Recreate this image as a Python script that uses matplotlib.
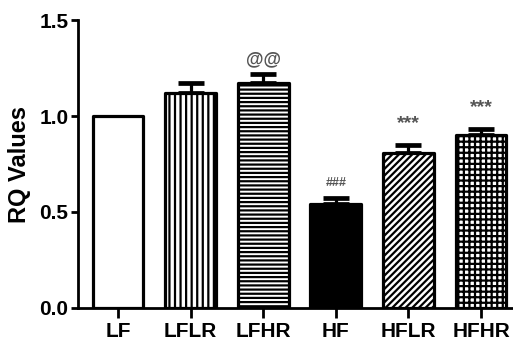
import matplotlib
matplotlib.use("Agg")
import matplotlib.pyplot as plt

categories = ["LF", "LFLR", "LFHR", "HF", "HFLR", "HFHR"]
values = [1.0, 1.12, 1.17, 0.54, 0.81, 0.90]
errors = [0.0, 0.05, 0.05, 0.035, 0.04, 0.03]
hatches = ["", "|||", "----", "", "/////", "+++"]
facecolors = ["white", "white", "white", "black", "white", "white"]
annotations = ["", "", "@@", "###", "***", "***"]
annot_y = [0, 0, 1.295, 0.65, 0.96, 1.045]
annot_size = [0, 0, 13, 9, 14, 14]

plt.rcParams["font.family"] = ["Liberation Sans", "DejaVu Sans"]
plt.rcParams["font.weight"] = "bold"
plt.rcParams["hatch.linewidth"] = 1.6

fig = plt.figure(figsize=(5.13, 3.41), dpi=100)
ax = fig.add_axes([0.152, 0.097, 0.848, 0.844])

x = list(range(len(categories)))
bars = ax.bar(x, values, width=0.7, color=facecolors, edgecolor="black",
              linewidth=2.3, zorder=2)
for b, h in zip(bars, hatches):
    if h:
        b.set_hatch(h)
    b.set_joinstyle("round")

for xi, v, e in zip(x, values, errors):
    if e > 0:
        ax.errorbar(xi, v, yerr=[[0], [e]], fmt="none", ecolor="black",
                    elinewidth=2.3, capsize=9.5, capthick=3.4, zorder=1)

for xi, t, y, s in zip(x, annotations, annot_y, annot_size):
    if t:
        ax.text(xi, y, t, ha="center", va="center", fontsize=s,
                color="#555555", fontweight="bold")

ax.set_xlim(-0.55, 5.44)
ax.set_ylim(0, 1.5)
ax.set_yticks([0.0, 0.5, 1.0, 1.5])
ax.set_yticklabels(["0.0", "0.5", "1.0", "1.5"])
ax.set_xticks(x)
ax.set_xticklabels(categories)
ax.tick_params(axis="both", labelsize=15, width=2, colors="black")
ax.tick_params(axis="x", length=7, pad=3)
ax.tick_params(axis="y", length=5, pad=2)
for lab in ax.get_xticklabels() + ax.get_yticklabels():
    lab.set_fontweight("bold")
ax.spines["top"].set_visible(False)
ax.spines["right"].set_visible(False)
ax.spines["left"].set_linewidth(2)
ax.spines["bottom"].set_linewidth(2)
ax.set_ylabel("RQ Values", fontsize=17, fontweight="bold", labelpad=6)

fig.savefig("out.png", dpi=100)
